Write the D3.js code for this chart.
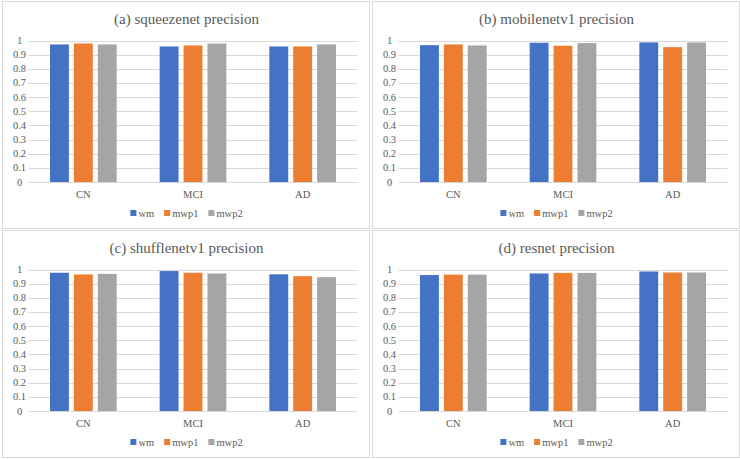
<!DOCTYPE html>
<html>
<head>
<meta charset="utf-8">
<script src="https://cdn.jsdelivr.net/npm/d3@7"></script>
<style>
  body { margin: 0; background: #fff; }
</style>
</head>
<body>
<svg id="canvas"></svg>
<script>
const categories = ["CN", "MCI", "AD"];
const series = ["wm", "mwp1", "mwp2"];
const colors = ["#4472C4", "#ED7D31", "#A5A5A5"];
const yTicks = [0, 0.1, 0.2, 0.3, 0.4, 0.5, 0.6, 0.7, 0.8, 0.9, 1];
const yTickLabels = ["0", "0.1", "0.2", "0.3", "0.4", "0.5", "0.6", "0.7", "0.8", "0.9", "1"];

// one row per series (wm, mwp1, mwp2), one value per category
const squeezenet = [[0.972, 0.958, 0.958], [0.979, 0.965, 0.958], [0.972, 0.979, 0.972]];
const mobilenet = [[0.967, 0.984, 0.986], [0.972, 0.963, 0.953], [0.965, 0.982, 0.986]];
const shufflenet = [[0.977, 0.989, 0.966], [0.965, 0.977, 0.953], [0.969, 0.972, 0.946]];
const resnet = [[0.961, 0.972, 0.986], [0.964, 0.976, 0.979], [0.964, 0.976, 0.979]];

const titles = ["(a) squeezenet precision", "(b) mobilenetv1 precision",
                "(c) shufflenetv1 precision", "(d) resnet precision"];
const panelData = [squeezenet, mobilenet, shufflenet, resnet];

const width = 740;
const height = 459;
const panelW = 367, panelH = 227;
const origins = [[2, 1], [372, 1], [2, 230], [372, 230]];
const plot = { left: 26.5, right: 355.5, top: 39.5, bottom: 181 };
const serif = "'Liberation Serif', 'Times New Roman', serif";

const svg = d3.select("#canvas")
    .attr("width", width)
    .attr("height", height)
    .attr("font-family", serif);

const x0 = d3.scaleBand()
    .domain(categories)
    .range([plot.left, plot.right]);

const x1 = d3.scaleBand()
    .domain(series)
    .range([0, x0.bandwidth()])
    .paddingInner(0.21)
    .paddingOuter(0.9);

const y = d3.scaleLinear()
    .domain([0, 1])
    .range([plot.bottom, plot.top]);

panelData.forEach((rows, i) => {
    const g = svg.append("g")
        .attr("transform", `translate(${origins[i][0]},${origins[i][1]})`);

    g.append("rect") // frame
        .attr("x", 0.5).attr("y", 0.5)
        .attr("width", panelW).attr("height", panelH)
        .attr("fill", "#fff")
        .attr("stroke", "#d9d9d9");

    g.append("text")
        .attr("x", panelW / 2 + 1)
        .attr("y", 23)
        .attr("text-anchor", "middle")
        .attr("font-family", serif)
        .attr("fill", "#595959")
        .style("font-size", "15px")
        .text(titles[i]);

    // gridlines
    g.append("g")
        .selectAll("line")
        .data(yTicks)
        .enter()
        .append("line")
        .attr("x1", plot.left)
        .attr("x2", plot.right)
        .attr("y1", d => Math.round(y(d)) + 0.5)
        .attr("y2", d => Math.round(y(d)) + 0.5)
        .attr("stroke", "#d9d9d9");

    g.append("g")
        .selectAll("text")
        .data(yTicks)
        .enter()
        .append("text")
        .attr("x", plot.left - 9)
        .attr("y", d => y(d) + 3.5)
        .attr("text-anchor", "middle")
        .attr("font-family", serif)
        .attr("fill", "#595959")
        .style("font-size", "10.5px")
        .text((d, k) => yTickLabels[k]);

    // bars
    const groups = g.append("g")
        .selectAll("g")
        .data(categories)
        .enter()
        .append("g")
        .attr("transform", d => `translate(${x0(d)},0)`);

    groups.selectAll("rect")
        .data((c, ci) => series.map((s, si) => ({ s: s, si: si, v: rows[si][ci] })))
        .enter()
        .append("rect")
        .attr("x", d => x1(d.s))
        .attr("y", d => y(d.v))
        .attr("width", x1.bandwidth())
        .attr("height", d => y(0) - y(d.v))
        .attr("fill", d => colors[d.si]);

    g.append("g")
        .selectAll("text")
        .data(categories)
        .enter()
        .append("text")
        .attr("x", d => x0(d) + x0.bandwidth() / 2)
        .attr("y", 196.5)
        .attr("text-anchor", "middle")
        .attr("font-family", serif)
        .attr("fill", "#595959")
        .style("font-size", "10.5px")
        .text(d => d);

    // legend
    const legend = g.append("g");
    let lx = 0;
    series.forEach((s, si) => {
        legend.append("rect")
            .attr("x", lx)
            .attr("y", 209)
            .attr("width", 6)
            .attr("height", 6)
            .attr("fill", colors[si]);
        const t = legend.append("text")
            .attr("x", lx + 8)
            .attr("y", 215.5)
            .attr("font-family", serif)
            .attr("fill", "#595959")
            .style("font-size", "10.5px")
            .text(s);
        lx += 8 + t.node().getComputedTextLength() + 10;
    });
    legend.attr("transform", `translate(${(panelW - (lx - 10)) / 2 + 1},0)`);
});
</script>
</body>
</html>
